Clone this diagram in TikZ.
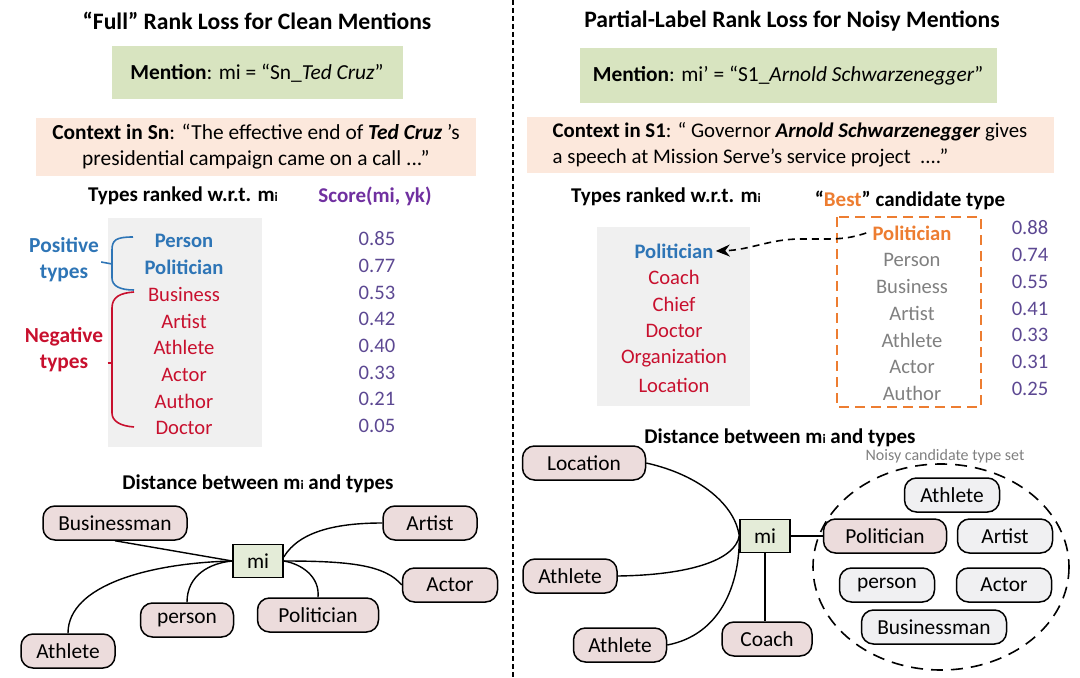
\documentclass[tikz,border=0pt]{standalone}
\usepackage{fontspec}
\setmainfont{Carlito}
\usepackage{tikz}
\usetikzlibrary{arrows.meta}
\usetikzlibrary{positioning}
\definecolor{mentgreen}{RGB}{216,228,192}
\definecolor{ctxpeach}{RGB}{252,232,220}
\definecolor{listgray}{RGB}{240,240,240}
\definecolor{posblue}{RGB}{46,117,182}
\definecolor{negred}{RGB}{200,16,46}
\definecolor{scorepurple}{RGB}{112,48,160}
\definecolor{numpurple}{RGB}{92,72,146}
\definecolor{bestorange}{RGB}{237,125,49}
\definecolor{candgray}{RGB}{128,128,128}
\definecolor{typepink}{RGB}{236,220,220}
\definecolor{setgray}{RGB}{240,240,242}
\definecolor{migreen}{RGB}{228,236,216}
\newcommand{\bodysize}{\fontsize{10.7}{13}\selectfont}
\newcommand{\listsize}{\fontsize{10.3}{12}\selectfont}
\tikzset{title/.style={font=\fontsize{11.8}{14}\selectfont\bfseries}}
\tikzset{head/.style={font=\fontsize{10.5}{12}\selectfont\bfseries}}
\tikzset{ment/.style={rectangle,fill=mentgreen,font=\bodysize}}
\tikzset{ctx/.style={rectangle,fill=ctxpeach,font=\bodysize}}
\tikzset{item/.style={inner sep=0pt,font=\listsize}}
\tikzset{postype/.style={item,text=posblue,font=\listsize\bfseries}}
\tikzset{negtype/.style={item,text=negred}}
\tikzset{score/.style={item,text=numpurple}}
\tikzset{candtype/.style={item,text=candgray}}
\tikzset{besttype/.style={item,text=bestorange,font=\listsize\bfseries}}
\tikzset{typebox/.style={rectangle,rounded corners=6pt,draw=black,line width=0.75pt,fill=typepink,minimum height=17pt,inner sep=1pt,font=\bodysize}}
\tikzset{setbox/.style={typebox,fill=setgray}}
\tikzset{mibox/.style={rectangle,draw=black,line width=0.75pt,fill=migreen,minimum width=25pt,minimum height=16.5pt,inner sep=1pt,font=\bodysize}}
\tikzset{link/.style={line width=0.7pt}}
\newcommand{\smi}{m{\fontsize{6.5}{6.5}\selectfont i}}

\begin{document}
\begin{tikzpicture}[x=0.5pt,y=-0.5pt]
\useasboundingbox (0,0) rectangle (1080,678);
\draw[line width=0.6pt,dash pattern=on 2.5pt off 1.5pt] (513,0) -- (513,678);

% left: full rank loss
\node[title] (tleft) at (257,21) {“Full” Rank Loss for Clean Mentions};
\node[ment,minimum width=145.5pt,minimum height=26.5pt] (mleft) at (257,73)
  {\textbf{Mention}: mi = “Sn\_\textit{Ted Cruz}”};
\node[ctx,minimum width=220pt,minimum height=29pt,inner sep=1pt,align=center] (cleft) at (256,147)
  {\textbf{Context in Sn}: “The effective end of \textbf{\textit{Ted Cruz}} 's\\
   presidential campaign came on a call ...”};
\node[head] (rleft) at (183,196) {Types ranked w.r.t. \smi};
\node[head,text=scorepurple] (sleft) at (375,196) {Score(mi, yk)};
\fill[listgray] (108,218) rectangle (262,447);
\foreach \t/\s/\st [count=\i from 0] in {Person/0.85/postype,Politician/0.77/postype,
    Business/0.53/negtype,Artist/0.42/negtype,Athlete/0.40/negtype,Actor/0.33/negtype,
    Author/0.21/negtype,Doctor/0.05/negtype}
  {\node[\st] (lt\i) at (184,{241+26.7*\i}) {\t};
   \node[score] (ls\i) at (377,{239+26.7*\i}) {\s};}

% braces
\node[item,text=posblue,font=\bodysize\bfseries,align=center] (pos) at (64,260) {Positive\\types};
\node[item,text=negred,font=\bodysize\bfseries,align=center] (neg) at (64,350) {Negative\\types};
\coordinate (ptop) at (133,237);
\coordinate (ptip) at (112,264);
\coordinate (pbot) at (134,290);
\coordinate (ntop) at (134,292);
\coordinate (ntip) at (112,363);
\coordinate (nbot) at (134,427);
\draw[posblue,line width=0.8pt] (ptop) .. controls (116,237) and (112,240) .. (112,250)
  -- (112,278) .. controls (112,286) and (120,290) .. (pbot);
\draw[negred,line width=0.8pt] (ntop) .. controls (120,293) and (112,297) .. (112,308)
  -- (112,413) .. controls (112,421) and (120,426) .. (nbot);
\draw[posblue,line width=0.8pt] ([xshift=1pt,yshift=-1pt]pos.east) -- (ptip);
\draw[negred,line width=0.8pt] ([xshift=2pt,yshift=-6.5pt]neg.east) -- (ntip);

% left: distance graph
\node[head] (dleft) at (258,484) {Distance between \smi\ and types};
\node[mibox] (mil) at (258,561) {mi};
\node[typebox,minimum width=72pt] (bml) at (115,523) {Businessman};
\node[typebox,minimum width=47pt] (arl) at (430,523) {Artist};
\node[typebox,minimum width=47.5pt] (acl) at (450,585) {Actor};
\node[typebox,minimum width=60.5pt] (pol) at (318,615) {Politician};
\node[typebox,minimum width=46.5pt] (pel) at (187,620) {person};
\node[typebox,minimum width=47pt] (atl) at (68,651) {Athlete};
\draw[link] (bml.south) -- (mil.west);
\draw[link] (atl.north) .. controls (68,585) and (150,563) .. (mil.west);
\draw[link] (pel.north) .. controls (187,575) and (210,563) .. (mil.west);
\draw[link] (pol.north) .. controls (320,577) and (302,564) .. (mil.east);
\draw[link] (mil.east) .. controls (350,561) and (385,565) .. (acl.west);
\draw[link] ([yshift=2pt]mil.east) .. controls (300,530) and (340,523) .. (arl.west);

% right: partial-label rank loss
\node[title] (tright) at (792,21) {Partial-Label Rank Loss for Noisy Mentions};
\node[ment,minimum width=208.5pt,minimum height=27.5pt] (mright) at (788,76)
  {\textbf{Mention}: mi’ = “S1\_\textit{Arnold Schwarzenegger}”};
\node[ctx,minimum width=263.5pt,inner sep=1pt,minimum height=28pt,align=left,font=\fontsize{10.4}{13}\selectfont] (cright) at (790,145)
  {\textbf{Context in S1}: “ Governor \textbf{\textit{Arnold Schwarzenegger}} gives\\
   a speech at Mission Serve's service project \ ....”};
\node[head] (rright) at (666,197) {Types ranked w.r.t. \smi};
\node[head] (bright) at (910,200) {“\textcolor{bestorange}{Best}” candidate type};
\fill[listgray] (597,227) rectangle (750,406);
\foreach \t/\st [count=\i from 0] in {Politician/postype,Coach/negtype,Chief/negtype,
    Doctor/negtype,Organization/negtype,Location/negtype}
  {\node[\st] (rt\i) at (674,{251+26.8*\i}) {\t};}
\draw[bestorange,line width=0.8pt,dash pattern=on 5pt off 3pt] (837,217) rectangle (981,407);
\foreach \t/\s/\st [count=\i from 0] in {Politician/0.88/besttype,Person/0.74/candtype,
    Business/0.55/candtype,Artist/0.41/candtype,Athlete/0.33/candtype,Actor/0.31/candtype,
    Author/0.25/candtype}
  {\node[\st] (ct\i) at (912,{233+26.8*\i}) {\t};
   \node[score] (cs\i) at (1030,{228+26.8*\i}) {\s};}
\draw[line width=0.8pt,dash pattern=on 3.5pt off 2.5pt,-{Stealth[length=7pt,width=6pt]}]
  ([xshift=-3pt]ct0.west) .. controls (845,240) and (835,239) .. (800,239)
  .. controls (770,239) and (750,250) .. ([xshift=1pt]rt0.east);

% right: distance graph
\node[head] (dright) at (780,438) {Distance between \smi\ and types};
\node[item,text=candgray,font=\fontsize{8}{9}\selectfont] (noisy) at (945,456) {Noisy candidate type set};
\draw[line width=0.8pt,dash pattern=on 6pt off 4pt] (941,567) ellipse [x radius=128,y radius=103];
\node[mibox] (mir) at (765,536) {mi};
\node[typebox,minimum width=61.5pt] (lor) at (584,463) {Location};
\node[typebox,minimum width=47pt] (at1r) at (570,576) {Athlete};
\node[typebox,minimum width=46.5pt] (at2r) at (620,645) {Athlete};
\node[typebox,minimum width=45pt] (cor) at (767,639) {Coach};
\node[typebox,minimum width=61.5pt] (por) at (885,536) {Politician};
\node[setbox,minimum width=47.5pt] (at3r) at (952,495) {Athlete};
\node[setbox,minimum width=47.5pt] (arr) at (1005,536) {Artist};
\node[setbox,minimum width=47.5pt] (per) at (887,585) {person};
\node[setbox,minimum width=47.5pt] (acr) at (1004,585) {Actor};
\node[setbox,minimum width=72.5pt] (bmr) at (934,627) {Businessman};
\draw[link] (lor.east) .. controls (700,475) and (735,505) .. (mir.west);
\draw[link] (at1r.east) .. controls (690,575) and (735,560) .. (mir.west);
\draw[link] (at2r.east) .. controls (720,635) and (740,585) .. (mir.west);
\draw[link] (mir.south) -- (mir.south |- cor.north);
\draw[link] (mir.east) -- (por.west);
\end{tikzpicture}
\end{document}
